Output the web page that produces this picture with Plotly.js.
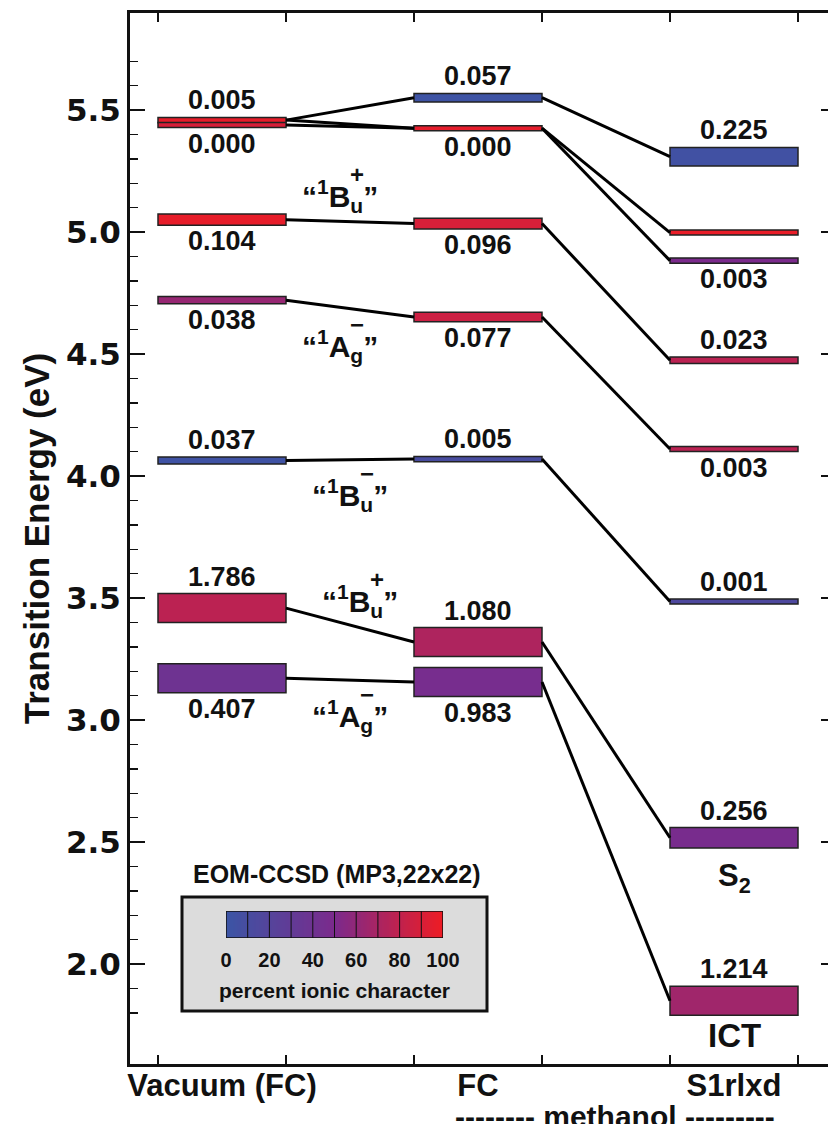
<!DOCTYPE html>
<html>
<head>
<meta charset="utf-8">
<script src="https://cdn.plot.ly/plotly-3.0.1.min.js"></script>
<style>
html,body{margin:0;padding:0;overflow:hidden;background:#fff;}
#chart{width:845px;height:1124px;}
</style>
</head>
<body>
<div id="chart"></div>
<script>
// ---------------- data ----------------
const columns = ['Vacuum (FC)', 'FC', 'S1rlxd'];

// Vacuum (FC)
const vacEnergy = [5.459, 5.439, 5.051, 4.721, 4.064, 3.459, 3.172];
const vacOsc    = ['0.005', '0.000', '0.104', '0.038', '0.037', '1.786', '0.407'];
const vacIonic  = [97, 90, 97, 62, 3, 78, 40];

// methanol FC
const fcEnergy = [5.551, 5.426, 5.035, 4.652, 4.070, 3.320, 3.156];
const fcOsc    = ['0.057', '0.000', '0.096', '0.077', '0.005', '1.080', '0.983'];
const fcIonic  = [2, 96, 90, 85, 10, 72, 47];

// methanol S1 relaxed
const s1Energy = [5.309, 4.998, 4.883, 4.475, 4.111, 3.486, 2.518, 1.850];
const s1Osc    = ['0.225', '', '0.003', '0.023', '0.003', '0.001', '0.256', '1.214'];
const s1Ionic  = [5, 98, 50, 78, 78, 15, 48, 66];

// correlations between levels of neighbouring columns [from, to]
const vacToFc = [[0, 0], [0, 1], [1, 1], [2, 2], [3, 3], [4, 4], [5, 5], [6, 6]];
const fcToS1  = [[0, 0], [1, 1], [1, 2], [2, 3], [3, 4], [4, 5], [5, 6], [6, 7]];

// state labels
const stateLetter = ['B', 'A', 'B', 'B', 'A'];
const stateSub    = ['u', 'g', 'u', 'u', 'g'];
const stateSign   = ['+', '\u2212', '\u2212', '+', '\u2212'];
const stateEnergy = [5.148, 4.533, 3.922, 3.488, 3.016];

const ionicTicks = [0, 20, 40, 60, 80, 100];

// ---------------- presentation ----------------
const vacSide = ['above', 'below', 'below', 'below', 'above', 'above', 'below'];
const fcSide  = ['above', 'below', 'below', 'below', 'above', 'above', 'below'];
const s1Side  = ['above', '', 'below', 'above', 'below', 'above', 'above', 'above'];
const stateX  = [1.42, 1.42, 1.5, 1.58, 1.5];

const W = 845, H = 1124;
const M = {l: 130, r: 9, t: 13, b: 60};
const plotW = W - M.l - M.r, plotH = H - M.t - M.b;
const Y_TOP = 5.898, PX_PER_EV = 244;
const Y_BOT = Y_TOP - plotH / PX_PER_EV;
const PX_PER_X = 128;
const X_MIN = -28 / PX_PER_X, X_MAX = X_MIN + plotW / PX_PER_X;

const colorscale = [[0, '#3b55a5'], [0.5, '#7b2a8c'], [1, '#ee1c24']];
const SANS = 'Liberation Sans, Arial, sans-serif';

function barPx(osc) {
  const f = osc === '' ? 0 : parseFloat(osc);
  return 5 + 60 * Math.min(f, 0.4);
}

const cols = [
  {E: vacEnergy, f: vacOsc, ion: vacIonic, side: vacSide},
  {E: fcEnergy,  f: fcOsc,  ion: fcIonic,  side: fcSide},
  {E: s1Energy,  f: s1Osc,  ion: s1Ionic,  side: s1Side}
];

// bars
const bx = [], bbase = [], bh = [], bcol = [];
const annotations = [];
cols.forEach((c, ci) => {
  const xc = ci * 2 + 0.5;
  c.E.forEach((e, i) => {
    const h = barPx(c.f[i]) / PX_PER_EV;
    bx.push(xc); bbase.push(e - h / 2); bh.push(h); bcol.push(c.ion[i]);
    if (c.f[i] !== '') {
      const above = c.side[i] === 'above';
      annotations.push({
        x: xc, y: above ? e + h / 2 : e - h / 2, xref: 'x', yref: 'y',
        text: c.f[i], showarrow: false,
        xanchor: 'center', yanchor: above ? 'bottom' : 'top',
        yshift: above ? 0 : 1,
        font: {family: SANS, size: 27, color: '#111', weight: 'bold'}
      });
    }
  });
});

// connecting lines
const lx = [], ly = [];
function connect(pairs, a, b, colA) {
  pairs.forEach(([i, j]) => {
    lx.push(colA * 2 + 1, colA * 2 + 2, null);
    ly.push(a[i], b[j], null);
  });
}
connect(vacToFc, vacEnergy, fcEnergy, 0);
connect(fcToS1, fcEnergy, s1Energy, 1);

// state labels
stateLetter.forEach((L, i) => {
  annotations.push({
    x: stateX[i], y: stateEnergy[i], xref: 'x', yref: 'y', showarrow: false,
    text: '\u201C<sup>1</sup>' + L + '<sub>' + stateSub[i] + '</sub>\u201D',
    xanchor: 'center', yanchor: 'middle',
    font: {family: SANS, size: 30, color: '#111', weight: 'bold'}
  });
  annotations.push({
    x: stateX[i], y: stateEnergy[i], xref: 'x', yref: 'y', showarrow: false,
    text: stateSign[i], xanchor: 'center', yanchor: 'middle',
    xshift: 17, yshift: 22,
    font: {family: SANS, size: 24, color: '#111', weight: 'bold'}
  });
});

// S2 / ICT
annotations.push({
  x: 4.5, y: s1Energy[6] - barPx(s1Osc[6]) / PX_PER_EV / 2, xref: 'x', yref: 'y',
  text: 'S<sub>2</sub>', showarrow: false, xanchor: 'center', yanchor: 'top', yshift: -8,
  font: {family: SANS, size: 31, color: '#111', weight: 'bold'}
});
annotations.push({
  x: 4.5, y: s1Energy[7] - barPx(s1Osc[7]) / PX_PER_EV / 2, xref: 'x', yref: 'y',
  text: 'ICT', showarrow: false, xanchor: 'center', yanchor: 'top', yshift: 0,
  font: {family: SANS, size: 33, color: '#111', weight: 'bold'}
});

// helpers for paper coords from pixel positions
const px2x = px => (px - M.l) / plotW;
const py2y = py => (M.t + plotH - py) / plotH;

annotations.push({
  x: px2x(337), y: py2y(874), xref: 'paper', yref: 'paper', showarrow: false,
  text: 'EOM-CCSD (MP3,22x22)', xanchor: 'center', yanchor: 'middle',
  font: {family: SANS, size: 25, color: '#111', weight: 'bold'}
});
annotations.push({
  x: px2x(615), y: py2y(1098), xref: 'paper', yref: 'paper', showarrow: false,
  text: '-------- methanol ---------', xanchor: 'center', yanchor: 'top',
  font: {family: SANS, size: 30, color: '#111', weight: 'bold'}
});

// colour-key heatmap
const keyX = [], keyZ = [];
for (let v = 0.5; v < 100; v += 1) { keyX.push(v); keyZ.push(v); }

const shapes = [
  {type: 'rect', xref: 'paper', yref: 'paper', layer: 'below',
   x0: px2x(182), x1: px2x(487), y0: py2y(1011), y1: py2y(897),
   fillcolor: '#dcdcdc', line: {color: '#111', width: 3}}
];
for (let k = 10; k < 100; k += 10) {
  shapes.push({type: 'line', xref: 'x3', yref: 'y3', x0: k, x1: k, y0: 0, y1: 1,
               line: {color: '#111', width: 1}});
}
shapes.push({type: 'rect', xref: 'x3', yref: 'y3', x0: 0, x1: 100, y0: 0, y1: 1,
             line: {color: '#111', width: 1.5}});

// minor tick positions on the energy axis
const minorVals = [];
for (let k = 18; k <= 57; k++) { if (k % 5 !== 0) minorVals.push(k / 10); }

const traces = [
  {type: 'bar', x: bx, y: bh, base: bbase, width: 1, orientation: 'v',
   marker: {color: bcol, colorscale: colorscale, cmin: 0, cmax: 100,
            line: {color: '#222', width: 1.5}},
   hoverinfo: 'skip', showlegend: false},
  {type: 'scatter', mode: 'lines', x: lx, y: ly,
   line: {color: '#000', width: 3}, hoverinfo: 'skip', showlegend: false},
  {type: 'scatter', mode: 'markers', x: [0.5, 2.5, 4.5], y: [3, 3, 3], xaxis: 'x2', yaxis: 'y',
   marker: {opacity: 0}, hoverinfo: 'skip', showlegend: false},
  {type: 'heatmap', x: keyX, y: [0.5], z: [keyZ], xaxis: 'x3', yaxis: 'y3',
   colorscale: colorscale, zmin: 0, zmax: 100, showscale: false, hoverinfo: 'skip'}
];

const layout = {
  width: W, height: H,
  margin: M,
  paper_bgcolor: '#fff', plot_bgcolor: 'rgba(0,0,0,0)',
  showlegend: false, barmode: 'overlay',
  xaxis: {
    range: [X_MIN, X_MAX], tickvals: [0, 1, 2, 3, 4, 5], showticklabels: false,
    ticks: 'inside', ticklen: 9, tickwidth: 1.5, tickcolor: '#111',
    showline: true, linewidth: 3, linecolor: '#111', mirror: 'ticks',
    showgrid: false, zeroline: false, fixedrange: true
  },
  xaxis2: {
    overlaying: 'x', anchor: 'y', side: 'bottom', range: [X_MIN, X_MAX],
    tickvals: columns.map((c, i) => i * 2 + 0.5), ticktext: columns,
    ticks: '', showline: false, showgrid: false, zeroline: false,
    tickfont: {family: SANS, size: 31, color: '#111', weight: 'bold'}
  },
  yaxis: {
    range: [Y_BOT, Y_TOP], tick0: 0, dtick: 0.5, tickformat: '.1f',
    ticks: 'inside', ticklen: 15, tickwidth: 1.5, tickcolor: '#111',
    minor: {tickvals: minorVals, ticks: 'inside', ticklen: 8, tickwidth: 1.5, tickcolor: '#111'},
    showline: true, linewidth: 3, linecolor: '#111', mirror: 'ticks',
    showgrid: false, zeroline: false,
    tickfont: {family: 'DejaVu Sans, sans-serif', size: 31, color: '#111', weight: 'bold'},
    title: {text: 'Transition Energy (eV)', standoff: 6,
            font: {family: SANS, size: 35, color: '#111', weight: 'bold'}}
  },
  xaxis3: {
    domain: [px2x(226), px2x(443)], anchor: 'y3', range: [0, 100],
    tickvals: ionicTicks, ticks: '', ticklabelstandoff: 8,
    showline: false, showgrid: false, zeroline: false,
    tickfont: {family: SANS, size: 20, color: '#111', weight: 'bold'},
    title: {text: 'percent ionic character', standoff: 13,
            font: {family: SANS, size: 21, color: '#111', weight: 'bold'}}
  },
  yaxis3: {
    domain: [py2y(938), py2y(911)], anchor: 'x3', range: [0, 1],
    showticklabels: false, ticks: '', showline: false, showgrid: false, zeroline: false
  },
  shapes: shapes,
  annotations: annotations
};

Plotly.newPlot('chart', traces, layout, {displayModeBar: false, staticPlot: true});
</script>
</body>
</html>
